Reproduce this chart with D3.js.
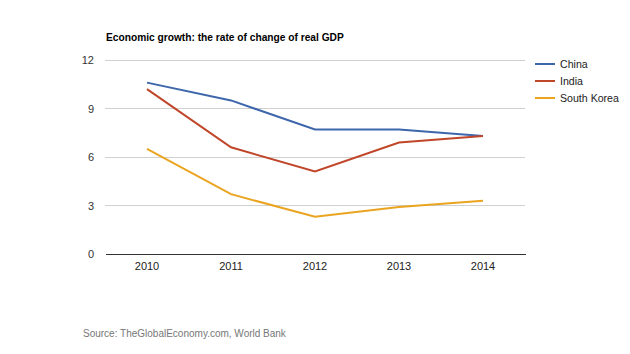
<!DOCTYPE html>
<html><head><meta charset="utf-8">
<script src="https://cdn.jsdelivr.net/npm/d3@7"></script>
<style>body{margin:0;background:#fff;} text{font-family:"Liberation Sans",Arial,sans-serif;}</style>
</head><body>
<svg id="c" width="630" height="354"></svg>
<script>
const years = ["2010","2011","2012","2013","2014"];
const china = [10.6, 9.5, 7.7, 7.7, 7.3];
const india = [10.2, 6.6, 5.1, 6.9, 7.3];
const southKorea = [6.5, 3.7, 2.3, 2.9, 3.3];
const yTicks = [0, 3, 6, 9, 12];
const seriesNames = ["China", "India", "South Korea"];
const seriesColors = ["#3d66ab", "#c0462a", "#eaa420"];

(function () {
const series = [china, india, southKorea];
const svg = d3.select("#c");
const mLeft = 105, mRight = 525, mTop = 60, mBottom = 254;
const x = d3.scaleBand().domain(years).range([mLeft, mRight]);
const y = d3.scaleLinear().domain([0, 12]).range([mBottom, mTop]);

svg.append("text").attr("x", 106).attr("y", 41).attr("font-size", 10.2).attr("font-weight", "bold").attr("fill", "#000")
  .text("Economic growth: the rate of change of real GDP");

// grid
svg.append("g").selectAll("line").data(yTicks.filter(d => d > 0)).join("line")
  .attr("x1", mLeft).attr("x2", mRight).attr("y1", d => y(d)).attr("y2", d => y(d))
  .attr("stroke", "#d0d0d0").attr("stroke-width", 1).attr("shape-rendering", "crispEdges");

const yAxis = svg.append("g").attr("transform", `translate(${mLeft},0)`)
  .call(d3.axisLeft(y).tickValues(yTicks).tickSize(0).tickPadding(11));
yAxis.select(".domain").remove();
yAxis.selectAll("text").attr("font-size", 11).attr("fill", "#333").attr("font-family", "Liberation Sans, Arial, sans-serif");

const xAxis = svg.append("g").attr("transform", `translate(0,${mBottom})`)
  .call(d3.axisBottom(x).tickSize(0).tickPadding(8));
xAxis.select(".domain").attr("stroke", "#333").attr("shape-rendering", "crispEdges");
xAxis.selectAll("text").attr("font-size", 11).attr("fill", "#222").attr("font-family", "Liberation Sans, Arial, sans-serif");

const line = d3.line().x((d, i) => x(years[i]) + x.bandwidth() / 2).y(d => y(d));
series.forEach((s, k) => {
  svg.append("path").datum(s).attr("d", line).attr("fill", "none")
    .attr("stroke", seriesColors[k]).attr("stroke-width", 2);
});

// legend
const lg = svg.append("g");
seriesNames.forEach((n, k) => {
  const yy = 64 + k * 17;
  lg.append("line").attr("x1", 535).attr("x2", 555).attr("y1", yy).attr("y2", yy)
    .attr("stroke", seriesColors[k]).attr("stroke-width", 2);
  lg.append("text").attr("x", 560).attr("y", yy + 4).attr("font-size", 10.6).attr("fill", "#222").text(n);
});

svg.append("text").attr("x", 83).attr("y", 337).attr("font-size", 10).attr("fill", "#777")
  .text("Source: TheGlobalEconomy.com, World Bank");
})();
</script>
</body></html>
